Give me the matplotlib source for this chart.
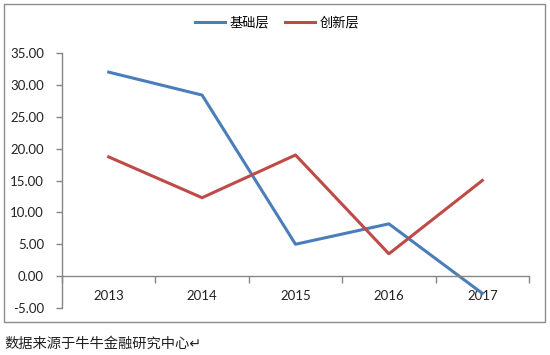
import matplotlib
matplotlib.use("Agg")
import matplotlib.pyplot as plt
from matplotlib.patches import Rectangle
from matplotlib.ticker import FixedLocator, FormatStrFormatter

plt.rcParams["font.family"] = ["Lato", "Noto Sans CJK SC", "DejaVu Sans"]

years = ["2013", "2014", "2015", "2016", "2017"]
basic = [32.0, 28.4, 5.0, 8.2, -2.7]        # 基础层
innovation = [18.7, 12.3, 19.0, 3.5, 15.0]  # 创新层
y_ticks = [-5, 0, 5, 10, 15, 20, 25, 30, 35]

BLUE = "#4a7ebb"
RED = "#be4b48"
AXIS_GRAY = "#868686"

fig = plt.figure(figsize=(5.5, 3.55), dpi=100)

# chart area border
fig.patches.append(Rectangle((4 / 550, 1 - 322 / 355), 541 / 550, 318 / 355,
                             transform=fig.transFigure, fill=False,
                             edgecolor="#8c8c8c", linewidth=1.0))

ax = fig.add_axes([62 / 550, 47 / 355, 467 / 550, 255 / 355])
x = range(len(years))
ax.plot(x, basic, color=BLUE, linewidth=2.2, label="基础层")
ax.plot(x, innovation, color=RED, linewidth=2.2, label="创新层")

ax.set_xlim(-0.5, len(years) - 0.5)
ax.set_ylim(-5, 35)
ax.set_yticks(y_ticks)
ax.yaxis.set_major_formatter(FormatStrFormatter("%.2f"))

ax.set_xticks(list(x))
ax.set_xticklabels(years)
ax.xaxis.set_minor_locator(FixedLocator([i - 0.5 for i in range(len(years) + 1)]))

for s in ("top", "right"):
    ax.spines[s].set_visible(False)
ax.spines["bottom"].set_position(("data", 0))
for s in ("left", "bottom"):
    ax.spines[s].set_color(AXIS_GRAY)
    ax.spines[s].set_linewidth(1.0)

ax.tick_params(axis="y", length=4, width=1, color=AXIS_GRAY, pad=9,
               labelsize=9.5, labelcolor="#222222")
ax.tick_params(axis="x", which="major", length=0, pad=10,
               labelsize=9.5, labelcolor="#222222")
ax.tick_params(axis="x", which="minor", length=5, width=1, color=AXIS_GRAY,
               direction="out")

fig.legend(loc="center", bbox_to_anchor=(277 / 550, 1 - 23 / 355), ncol=2,
           frameon=False, handlelength=2.3, handletextpad=0.3,
           columnspacing=1.2, prop={"family": ["Noto Sans CJK SC", "DejaVu Sans"], "size": 9.5})

fig.text(4 / 550, 11 / 355, "数据来源于牛牛金融研究中心↵",
         family=["Noto Sans CJK SC", "DejaVu Sans"], fontsize=10.3,
         color="#222222", va="center", ha="left")

fig.savefig("out.png", dpi=100)
